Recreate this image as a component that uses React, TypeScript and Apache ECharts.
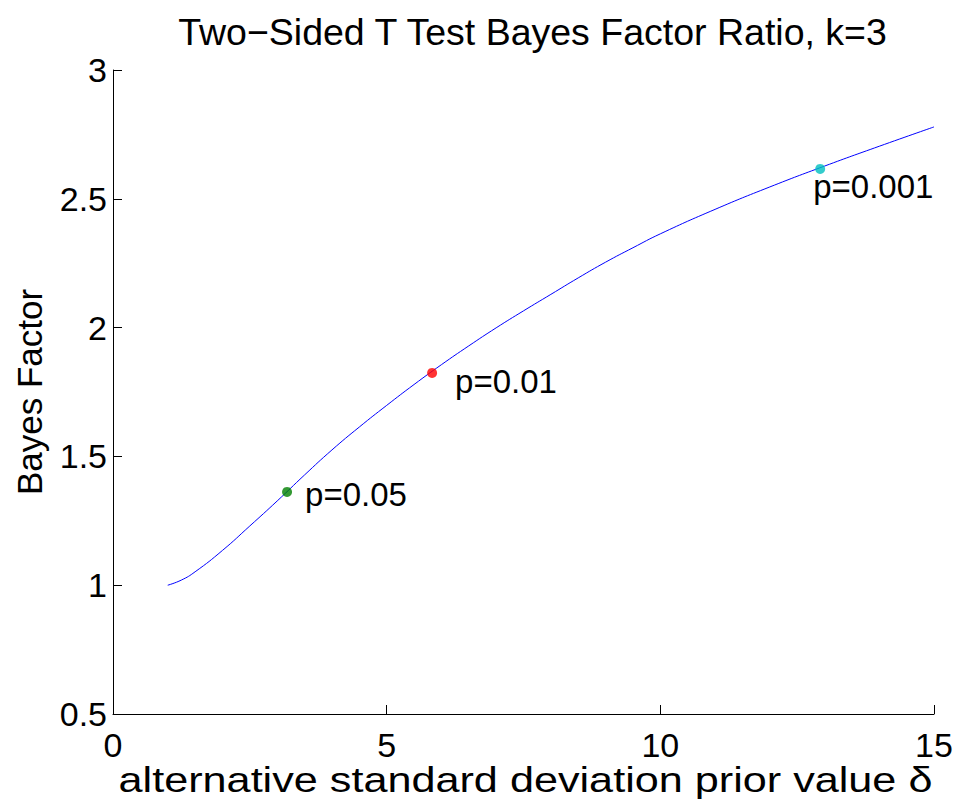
import React, { useEffect, useRef } from "react";
import * as echarts from "echarts";

const deltaValues = [1, 1.25, 1.5, 2, 2.5, 3, 3.5, 4, 4.5, 5, 5.5, 6, 6.5, 7, 7.5, 8, 8.5, 9, 9.5, 10, 11, 12, 13, 14, 15];
const bayesFactorValues = [1.0, 1.02, 1.052, 1.135, 1.23, 1.327, 1.428, 1.525, 1.614, 1.698, 1.779, 1.856, 1.929, 1.999, 2.065, 2.129, 2.193, 2.254, 2.31, 2.364, 2.459, 2.546, 2.627, 2.704, 2.779];

const pointDelta = [3.18, 5.83, 12.92];
const pointBF = [1.362, 1.824, 2.616];
const pointLabels = ["p=0.05", "p=0.01", "p=0.001"];

const xTicks = [0, 5, 10, 15];
const yTicks = [0.5, 1, 1.5, 2, 2.5, 3];

const titleText = "Two\u2212Sided T Test Bayes Factor Ratio, k=3";
const xName = "alternative standard deviation prior value \u03b4";
const yName = "Bayes Factor";

// styles
const POINT_COLORS = ["#008000", "#ff0000", "#00bfbf"];
const LABEL_OFFSETS: [number, number][] = [[18, 3], [23, 9], [-7, 18]];
const FONT = "'Liberation Sans', Arial, Helvetica, sans-serif";

export default function App() {
  const ref = useRef<HTMLDivElement>(null);
  useEffect(() => {
    document.body.style.margin = "0";
    if (!ref.current) return;
    const chart = echarts.init(ref.current, null, { renderer: "svg" });
    const axisCommon = {
      axisLine: { show: true, onZero: false, lineStyle: { color: "#000", width: 1 } },
      axisTick: { show: true, inside: true, length: 9, lineStyle: { color: "#000", width: 1 } },
      splitLine: { show: false },
      axisLabel: { show: false },
    };
    chart.setOption({
      animation: false,
      backgroundColor: "#fff",
      grid: { left: 113, right: 26, top: 70, bottom: 85, containLabel: false },
      xAxis: {
        type: "value",
        min: xTicks[0],
        max: xTicks[xTicks.length - 1],
        interval: xTicks[1] - xTicks[0],
        ...axisCommon,
      },
      yAxis: {
        type: "value",
        min: yTicks[0],
        max: yTicks[yTicks.length - 1],
        interval: yTicks[1] - yTicks[0],
        ...axisCommon,
      },
      series: [
        {
          type: "line",
          data: deltaValues.map((d, i) => [d, bayesFactorValues[i]]),
          smooth: 0.5,
          showSymbol: false,
          lineStyle: { color: "#0000ff", width: 1 },
          z: 2,
        },
        {
          type: "scatter",
          symbol: "circle",
          symbolSize: 10,
          z: 3,
          data: pointDelta.map((d, i) => ({
            value: [d, pointBF[i]],
            itemStyle: { color: POINT_COLORS[i] },
          })),
        },
      ],
    });

    const px = (x: number, y: number) => chart.convertToPixel({ gridIndex: 0 }, [x, y]) as number[];
    const txt = (text: string, x: number, y: number, fontSize: number, align: string, extra: any = {}) => ({
      type: "text",
      x,
      y,
      z: 10,
      style: { text, fontSize, fontFamily: FONT, fill: "#000", align, verticalAlign: "middle" },
      ...extra,
    });
    const origin = px(xTicks[0], yTicks[0]);
    const topRight = px(xTicks[xTicks.length - 1], yTicks[yTicks.length - 1]);
    const graphics: any[] = [];
    graphics.push(txt(titleText, (origin[0] + topRight[0]) / 2 + 9, 32, 37.5, "center"));
    xTicks.forEach((t) => {
      const p = px(t, yTicks[0]);
      graphics.push(txt(String(t), p[0], origin[1] + 31, 34, "center"));
    });
    yTicks.forEach((t) => {
      const p = px(xTicks[0], t);
      graphics.push(txt(String(t), origin[0] - 6, p[1], 34, "right"));
    });
    graphics.push(txt(xName, (origin[0] + topRight[0]) / 2 + 2, origin[1] + 65, 36, "center", { scaleX: 1.2 }));
    graphics.push({
      type: "text",
      x: origin[0] - 84,
      y: (origin[1] + topRight[1]) / 2,
      rotation: Math.PI / 2,
      z: 10,
      style: { text: yName, fontSize: 35, fontFamily: FONT, fill: "#000", align: "center", verticalAlign: "middle" },
    });
    pointDelta.forEach((d, i) => {
      const p = px(d, pointBF[i]);
      graphics.push(txt(pointLabels[i], p[0] + LABEL_OFFSETS[i][0], p[1] + LABEL_OFFSETS[i][1], 33, "left"));
    });
    chart.setOption({ graphic: graphics });
    return () => chart.dispose();
  }, []);
  return <div ref={ref} style={{ width: 960, height: 799 }} />;
}
